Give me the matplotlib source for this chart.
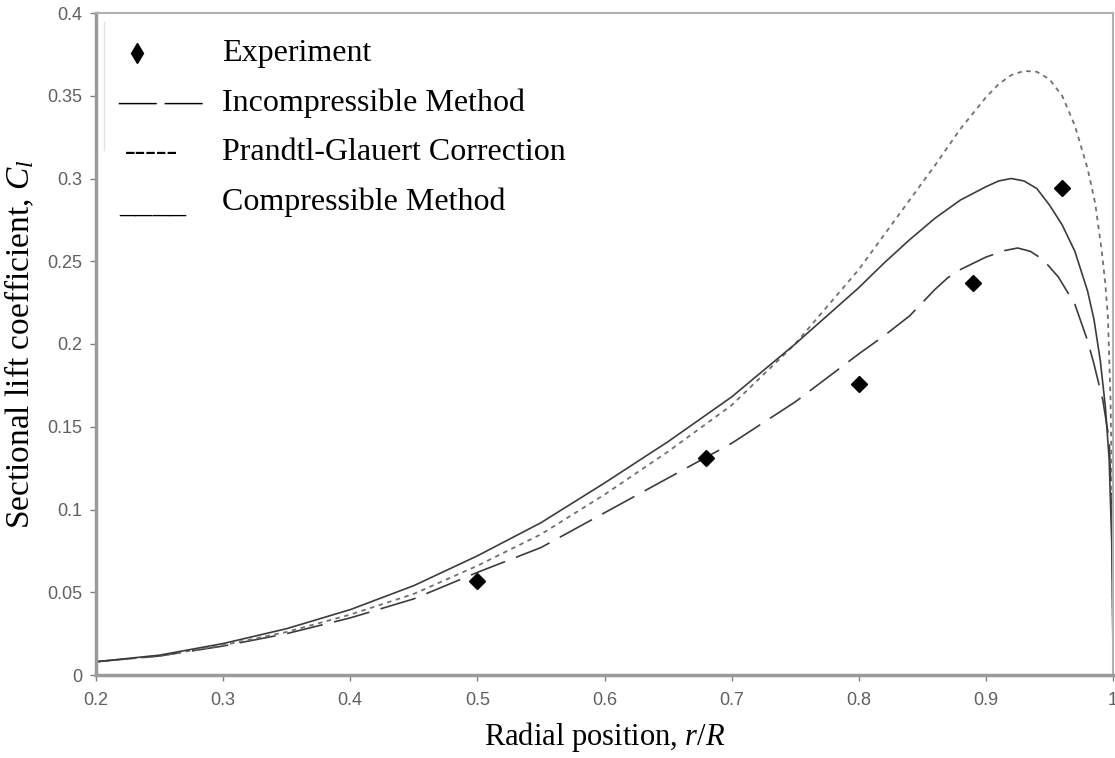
import matplotlib
matplotlib.use("Agg")
import matplotlib.pyplot as plt
from matplotlib.lines import Line2D

plt.rcParams["mathtext.fontset"] = "custom"
plt.rcParams["mathtext.it"] = "Liberation Serif:italic"
plt.rcParams["mathtext.rm"] = "Liberation Serif"

# Experimental sectional lift
r_exp = [0.50, 0.68, 0.80, 0.89, 0.96]
cl_exp = [0.057, 0.131, 0.176, 0.237, 0.294]

# Incompressible method
r_inc = [0.2, 0.25, 0.3, 0.35, 0.4, 0.45, 0.5, 0.55, 0.6, 0.65, 0.7, 0.75,
         0.8, 0.82, 0.84, 0.86, 0.87, 0.88, 0.9, 0.915, 0.925, 0.935, 0.945,
         0.957, 0.97, 0.98, 0.985, 0.992, 0.997, 0.9995, 1.0]
cl_inc = [0.008, 0.0115, 0.0175, 0.025, 0.0345, 0.046, 0.062, 0.077, 0.098,
          0.119, 0.140, 0.165, 0.194, 0.205, 0.217, 0.233, 0.240, 0.245,
          0.2525, 0.2565, 0.258, 0.256, 0.251, 0.2405, 0.224, 0.202, 0.188,
          0.166, 0.142, 0.09, 0.01]

# Prandtl-Glauert correction
r_pg = [0.2, 0.25, 0.3, 0.35, 0.4, 0.45, 0.5, 0.55, 0.6, 0.65, 0.7, 0.75,
        0.8, 0.82, 0.84, 0.86, 0.88, 0.9, 0.91, 0.92, 0.93, 0.94, 0.95,
        0.96, 0.97, 0.98, 0.986, 0.991, 0.994, 0.996, 0.998, 0.9995, 1.0]
cl_pg = [0.008, 0.0115, 0.018, 0.026, 0.0365, 0.049, 0.066, 0.085, 0.109,
         0.135, 0.163, 0.200, 0.245, 0.266, 0.287, 0.308, 0.330, 0.349,
         0.357, 0.3625, 0.365, 0.3645, 0.360, 0.350, 0.332, 0.306, 0.285,
         0.257, 0.236, 0.216, 0.168, 0.10, 0.01]

# Compressible method
r_comp = [0.2, 0.25, 0.3, 0.35, 0.4, 0.45, 0.5, 0.55, 0.6, 0.65, 0.7, 0.75,
          0.8, 0.82, 0.84, 0.86, 0.88, 0.9, 0.91, 0.92, 0.93, 0.94, 0.95,
          0.96, 0.97, 0.98, 0.985, 0.99, 0.994, 0.997, 0.999, 1.0]
cl_comp = [0.008, 0.012, 0.019, 0.028, 0.0395, 0.054, 0.072, 0.092, 0.116,
           0.141, 0.168, 0.200, 0.234, 0.249, 0.263, 0.276, 0.287, 0.295,
           0.2985, 0.300, 0.2985, 0.294, 0.284, 0.272, 0.256, 0.232, 0.215,
           0.19, 0.162, 0.13, 0.08, 0.015]

xticks = [0.2, 0.3, 0.4, 0.5, 0.6, 0.7, 0.8, 0.9, 1.0]
xtick_labels = ["0.2", "0.3", "0.4", "0.5", "0.6", "0.7", "0.8", "0.9", "1"]
yticks = [0, 0.05, 0.1, 0.15, 0.2, 0.25, 0.3, 0.35, 0.4]
ytick_labels = ["0", "0.05", "0.1", "0.15", "0.2", "0.25", "0.3", "0.35", "0.4"]

legend_labels = ["Experiment", "Incompressible Method",
                 "Prandtl-Glauert Correction", "Compressible Method"]

W, H = 1115, 758
fig = plt.figure(figsize=(W / 100, H / 100), dpi=100)
ax = fig.add_axes([96 / W, 1 - 675 / H, (1113 - 96) / W, (675 - 13) / H])

serif = "Liberation Serif"

ax.plot(r_inc, cl_inc, color="#3c3c3c", lw=1.2, linestyle=(0, (22, 7)))
ax.plot(r_pg, cl_pg, color="#707070", lw=1.3, linestyle=(0, (2.5, 2.5)))
ax.plot(r_comp, cl_comp, color="#3c3c3c", lw=1.2)
ax.plot(r_exp, cl_exp, linestyle="none", marker="D", ms=8, color="black")

ax.set_xlim(0.2, 1.0)
ax.set_ylim(0, 0.4)
ax.set_xticks(xticks)
ax.set_xticklabels(xtick_labels)
ax.set_yticks(yticks)
ax.set_yticklabels(ytick_labels)
ax.tick_params(axis="both", direction="out", length=4, width=1,
               color="#808080", labelcolor="#606060", labelsize=13)
ax.tick_params(axis="x", pad=8)
ax.tick_params(axis="y", pad=6)
for lab in ax.get_xticklabels() + ax.get_yticklabels():
    lab.set_fontfamily("Liberation Sans")

for side in ["left", "bottom"]:
    ax.spines[side].set_color("#9a9a9a")
    ax.spines[side].set_linewidth(2.5)
for side in ["top", "right"]:
    ax.spines[side].set_color("#b0b0b0")
    ax.spines[side].set_linewidth(1.5)

ax.set_xlabel("Radial position, $\\mathit{r/R}$", fontsize=22, family=serif,
              labelpad=8)
ax.set_ylabel("Sectional lift coefficient, $\\mathit{C_l}$", fontsize=24,
              family=serif, labelpad=8)

# hand-made key in the upper left corner
rows_y = [53, 103, 153, 202]
for y, text in zip(rows_y, legend_labels):
    fig.text(222 / W, 1 - y / H, text, family=serif, fontsize=23,
             va="center", ha="left")
fig.add_artist(Line2D([137 / W], [1 - 53 / H], marker="d", ms=10,
                      color="black", linestyle="none"))
fig.text(160 / W, 1 - 103 / H, "\u2014 \u2014", family=serif, fontsize=27,
         va="center", ha="center")
fig.text(151 / W, 1 - 153 / H, "-----", family=serif, fontsize=23,
         va="center", ha="center")
fig.text(153 / W, 1 - 203 / H, "____", family=serif, fontsize=24,
         va="center", ha="center")
fig.add_artist(Line2D([104 / W, 104 / W], [1 - 22 / H, 1 - 150 / H],
                      color="#e2e2e2", lw=1))

fig.savefig("out.png", dpi=100)
